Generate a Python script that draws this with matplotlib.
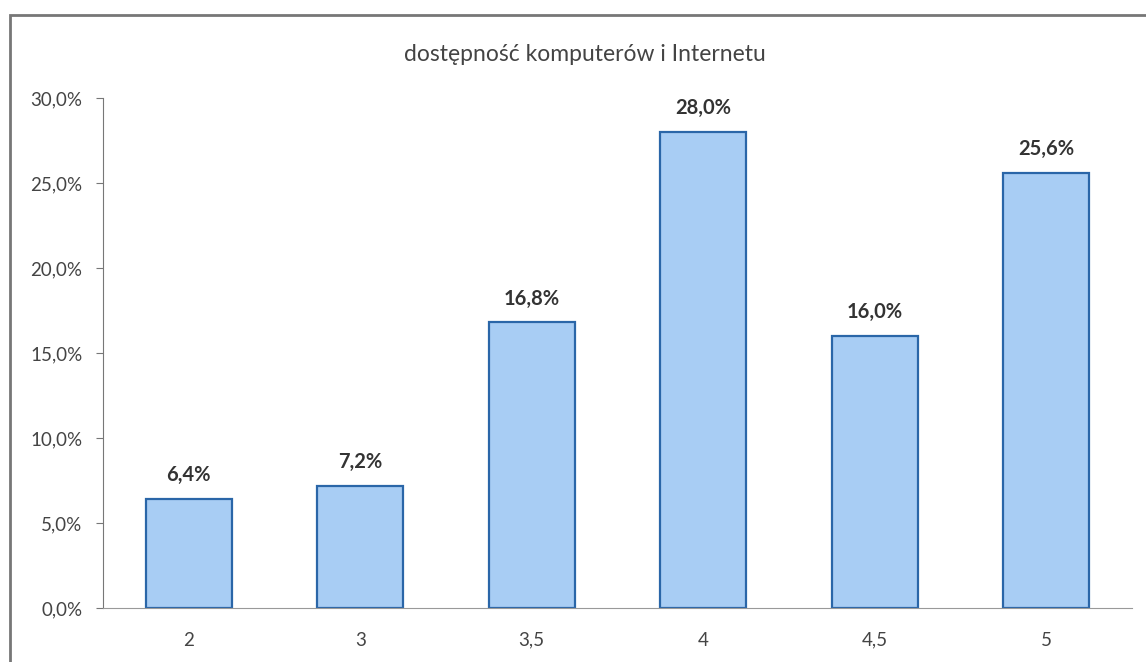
import matplotlib.pyplot as plt
from matplotlib.patches import Rectangle

categories = ['2', '3', '3,5', '4', '4,5', '5']
values = [6.4, 7.2, 16.8, 28.0, 16.0, 25.6]
yticks = [0, 5, 10, 15, 20, 25, 30]

plt.rcParams['font.family'] = ['Lato', 'DejaVu Sans']

fig = plt.figure(figsize=(11.46, 6.62), dpi=100)
ax = fig.add_axes([0.0899, 0.0816, 0.8979, 0.7704])

x = range(len(categories))
ax.bar(x, values, width=0.5, color='#a8cdf4', edgecolor='#2a66a8', linewidth=1.6)

for i, v in enumerate(values):
    ax.annotate(f'{v:.1f}%'.replace('.', ','), (i, v), xytext=(0, 10),
                textcoords='offset points', ha='center', va='bottom',
                fontsize=14.5, fontweight='bold', color='#333333')

ax.set_xlim(-0.5, 5.5)
ax.set_ylim(0, 30)
ax.set_xticks(list(x))
ax.set_xticklabels(categories)
ax.set_yticks(yticks)
ax.set_yticklabels([f'{t:.1f}%'.replace('.', ',') for t in yticks])
ax.tick_params(axis='x', length=0, pad=17, labelsize=13.5, colors='#444444')
ax.tick_params(axis='y', length=5, pad=10, labelsize=13.5, colors='#444444', color='#777777')

for s in ['top', 'right']:
    ax.spines[s].set_visible(False)
ax.spines['left'].set_color('#777777')
ax.spines['bottom'].set_color('#999999')

fig.text(0.51, 0.917, 'dostępność komputerów i Internetu', ha='center', va='center',
         fontsize=16.5, color='#444444')

border = Rectangle((10 / 1146, -0.1), 1.2, 1 - 15 / 662 + 0.1, transform=fig.transFigure,
                   fill=False, edgecolor='#777777', linewidth=2, clip_on=False)
fig.patches.append(border)

fig.savefig('out.png', dpi=100)
